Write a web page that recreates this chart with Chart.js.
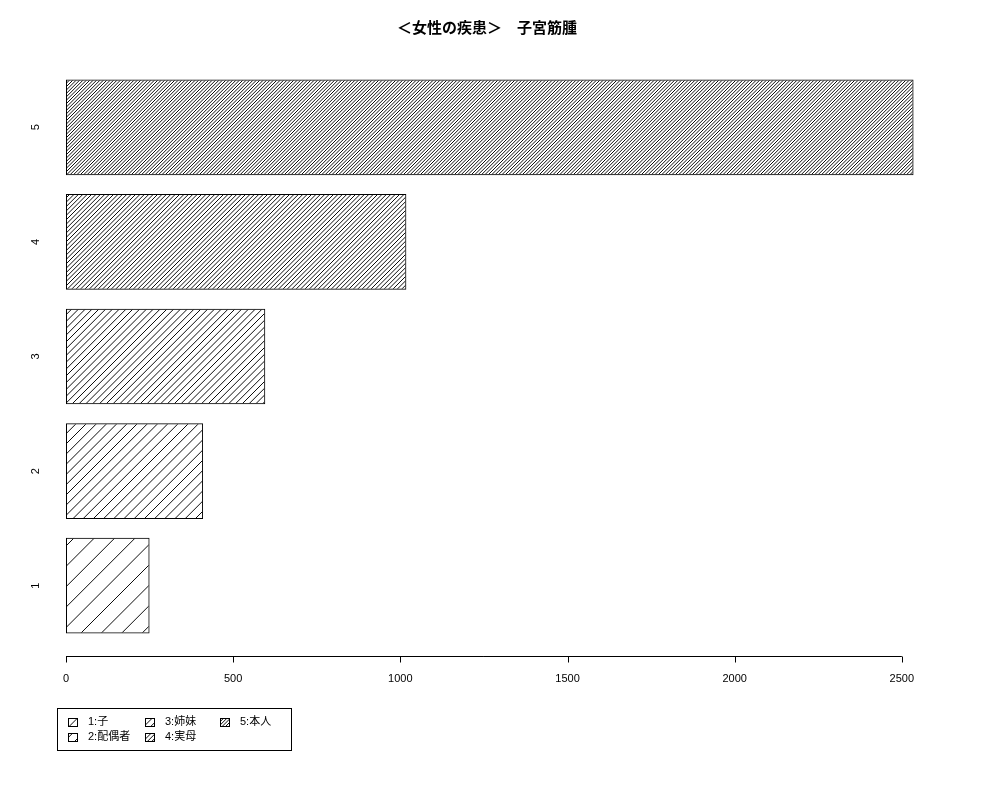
<!DOCTYPE html>
<html>
<head>
<meta charset="utf-8">
<script src="https://cdn.jsdelivr.net/npm/chart.js@4/dist/chart.umd.min.js"></script>
<style>
  html, body { margin: 0; background: #fff; }
</style>
</head>
<body>
<canvas id="myChart" width="1000" height="800"></canvas>
<script>
// data
const chartTitle = "＜女性の疾患＞　子宮筋腫";
const categories = ["1", "2", "3", "4", "5"];
const values = [250, 410, 596, 1018, 2535];
const legendLabels = ["1:子", "2:配偶者", "3:姉妹", "4:実母", "5:本人"];
const xTicks = [0, 500, 1000, 1500, 2000, 2500];

const FONT = "'Liberation Sans', 'Noto Sans CJK JP', sans-serif";
// horizontal gap between hatch lines, one per bar (thin -> dense)
const hatchGap = [20.4, 10.2, 6.8, 4.4, 3.3];

// tile holds several lines so fractional gaps repeat without rescaling
function makeHatch(ctx, gap) {
  const n = 5;
  const t = Math.round(gap * n);
  const step = t / n;
  const c = document.createElement("canvas");
  c.width = t; c.height = t;
  const g = c.getContext("2d");
  g.strokeStyle = "#000";
  g.lineWidth = 0.95;
  for (let o = -t; o <= t; o += step) {
    g.beginPath();
    g.moveTo(o, t);
    g.lineTo(o + t, 0);
    g.stroke();
  }
  return ctx.createPattern(c, "repeat");
}

const ctx = document.getElementById("myChart").getContext("2d");
const patterns = hatchGap.map(function (g) { return makeHatch(ctx, g); });

// title, rotated category labels, bottom axis and legend box
const decorations = {
  id: "decorations",
  afterDraw: function (chart) {
    const c = chart.ctx;
    const xs = chart.scales.x;
    const ys = chart.scales.y;
    c.save();
    c.fillStyle = "#000";
    c.strokeStyle = "#000";

    // title
    c.font = "bold 15px " + FONT;
    c.textAlign = "center";
    c.textBaseline = "middle";
    c.fillText(chartTitle, 487, 29);

    // y labels, reading bottom to top
    c.font = "11px " + FONT;
    categories.forEach(function (lab, i) {
      c.save();
      c.translate(36, ys.getPixelForValue(i));
      c.rotate(-Math.PI / 2);
      c.fillText(lab, 0, 0);
      c.restore();
    });

    // x axis
    const axisY = chart.chartArea.bottom + 13.5;
    c.lineWidth = 1;
    c.beginPath();
    c.moveTo(xs.getPixelForValue(xTicks[0]), axisY);
    c.lineTo(xs.getPixelForValue(xTicks[xTicks.length - 1]), axisY);
    xTicks.forEach(function (v) {
      const px = Math.round(xs.getPixelForValue(v)) + 0.5;
      c.moveTo(px, axisY);
      c.lineTo(px, axisY + 6);
    });
    c.stroke();
    xTicks.forEach(function (v) {
      c.fillText(String(v), xs.getPixelForValue(v), axisY + 22);
    });

    // legend
    c.strokeRect(57.5, 708.5, 234, 42);
    c.textAlign = "left";
    const colX = [68, 145, 220];
    const rowY = [722, 737];
    legendLabels.forEach(function (lab, i) {
      const x = colX[Math.floor(i / 2)];
      const y = rowY[i % 2];
      c.fillStyle = patterns[i];
      c.fillRect(x, y - 4, 10, 8);
      c.strokeRect(x + 0.5, y - 3.5, 9, 8);
      c.fillStyle = "#000";
      c.fillText(lab, x + 20, y);
    });
    c.restore();
  }
};

new Chart(ctx, {
  type: "bar",
  data: {
    labels: categories,
    datasets: [{
      data: values,
      backgroundColor: patterns,
      borderColor: "#000",
      borderWidth: 1,
      borderSkipped: false,
      barPercentage: 0.835,
      categoryPercentage: 1
    }]
  },
  options: {
    indexAxis: "y",
    responsive: false,
    animation: false,
    layout: { padding: { left: 66, right: 48, top: 70, bottom: 157 } },
    scales: {
      x: { type: "linear", min: 0, max: 2650, display: false },
      y: { reverse: true, display: false }
    },
    plugins: {
      legend: { display: false },
      tooltip: { enabled: false }
    }
  },
  plugins: [decorations]
});
</script>
</body>
</html>
